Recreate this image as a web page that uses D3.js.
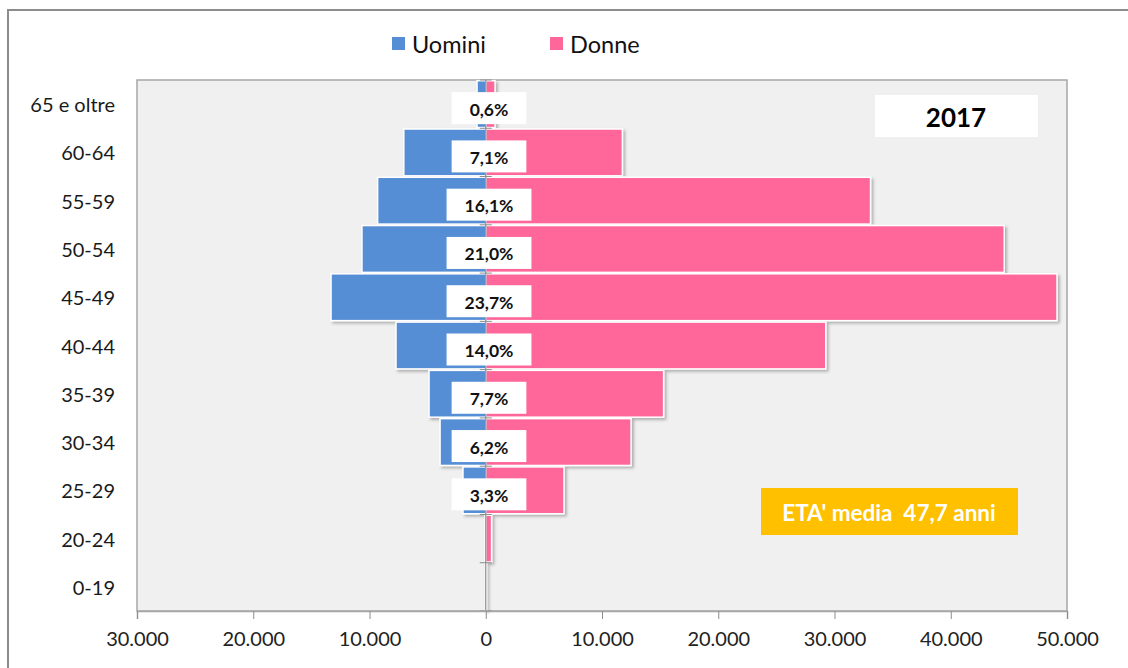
<!DOCTYPE html>
<html>
<head>
<meta charset="utf-8">
<script src="https://cdn.jsdelivr.net/npm/d3@7"></script>
<style>
  body { margin: 0; background: #fff; }
  svg { display: block; font-family: Lato, "Open Sans", sans-serif; }
</style>
</head>
<body>
<div id="chart"></div>
<script>
// piramide eta' - Uomini vs Donne, 2017

const ageClasses = ["0-19", "20-24", "25-29", "30-34", "35-39", "40-44", "45-49", "50-54", "55-59", "60-64", "65 e oltre"];
const uomini = [30, 60, 1960, 3930, 4880, 7720, 13310, 10650, 9300, 7050, 750];
const donne = [60, 500, 6730, 12500, 15300, 29250, 49140, 44600, 33100, 11750, 800];
const percentLabels = ["", "", "3,3%", "6,2%", "7,7%", "14,0%", "23,7%", "21,0%", "16,1%", "7,1%", "0,6%"];
const xTicks = [-30000, -20000, -10000, 0, 10000, 20000, 30000, 40000, 50000];
const seriesNames = ["Uomini", "Donne"];
const yearLabel = "2017";
const etaLabel = "ETA' media  47,7 anni";

const W = 1128, H = 668;
const plot = { left: 137, right: 1067, top: 80, bottom: 611 };
const colors = { Uomini: "#558ed5", Donne: "#ff6699" };

const svg = d3.select("#chart")
  .append("svg")
  .attr("width", W)
  .attr("height", H);

const defs = svg.append("defs");
const shadow = defs.append("filter")
  .attr("id", "shadow")
  .attr("x", "-10%").attr("y", "-10%")
  .attr("width", "130%").attr("height", "140%");
shadow.append("feDropShadow")
  .attr("dx", 2).attr("dy", 2)
  .attr("stdDeviation", 1.6)
  .attr("flood-color", "#000")
  .attr("flood-opacity", 0.28);

// outer frame (only left and top edges are visible)
svg.append("path")
  .attr("d", `M8,${H} L8,10 L${W},10`)
  .attr("fill", "none")
  .attr("stroke", "#8c8c8c")
  .attr("stroke-width", 2);

const x = d3.scaleLinear()
  .domain([-30000, 50000])
  .range([plot.left, plot.right]);

const y = d3.scaleBand()
  .domain(ageClasses)
  .range([plot.bottom, plot.top])
  .paddingInner(0.03)
  .paddingOuter(0.015);

// plot area
svg.append("rect")
  .attr("x", plot.left)
  .attr("y", plot.top)
  .attr("width", plot.right - plot.left)
  .attr("height", plot.bottom - plot.top)
  .attr("fill", "#f0f0f0")
  .attr("stroke", "#a6a6a6")
  .attr("stroke-width", 1.5);

// legend
const legend = svg.append("g");
const legendX = [392, 550];
seriesNames.forEach((name, i) => {
  legend.append("rect")
    .attr("x", legendX[i])
    .attr("y", 37)
    .attr("width", 13)
    .attr("height", 13)
    .attr("fill", colors[name]);
  legend.append("text")
    .attr("x", legendX[i] + 20)
    .attr("y", 44)
    .attr("dominant-baseline", "central")
    .style("font-size", "23.5px")
    .attr("fill", "#111")
    .text(name);
});

// bars
const rows = ageClasses.map((a, i) => ({ age: a, u: uomini[i], d: donne[i], pct: percentLabels[i] }));

const bars = svg.append("g").attr("filter", "url(#shadow)");

bars.selectAll("rect.uomini")
  .data(rows)
  .join("rect")
  .attr("class", "uomini")
  .attr("x", (d) => x(-d.u))
  .attr("y", (d) => y(d.age))
  .attr("width", (d) => x(0) - x(-d.u))
  .attr("height", y.bandwidth())
  .attr("fill", colors.Uomini)
  .attr("stroke", "#fff")
  .attr("stroke-width", 1.5);

bars.selectAll("rect.donne")
  .data(rows)
  .join("rect")
  .attr("class", "donne")
  .attr("x", x(0))
  .attr("y", (d) => y(d.age))
  .attr("width", (d) => x(d.d) - x(0))
  .attr("height", y.bandwidth())
  .attr("fill", colors.Donne)
  .attr("stroke", "#fff")
  .attr("stroke-width", 1.5);

// vertical category axis on zero
const axisY = svg.append("g");
axisY.append("line")
  .attr("x1", x(0)).attr("x2", x(0))
  .attr("y1", plot.top).attr("y2", plot.bottom)
  .attr("stroke", "#8c8c8c")
  .attr("stroke-width", 1.2);
const bounds = d3.range(ageClasses.length + 1).map((i) => plot.bottom - i * (plot.bottom - plot.top) / ageClasses.length);
axisY.selectAll("line.tick")
  .data(bounds)
  .join("line")
  .attr("class", "tick")
  .attr("x1", x(0) - 6).attr("x2", x(0) + 6)
  .attr("y1", (d) => d).attr("y2", (d) => d)
  .attr("stroke", "#8c8c8c")
  .attr("stroke-width", 1);

// category labels
svg.append("g")
  .selectAll("text")
  .data(ageClasses)
  .join("text")
  .attr("x", 115)
  .attr("y", (d) => y(d) + y.bandwidth() / 2)
  .attr("text-anchor", "end")
  .attr("dominant-baseline", "central")
  .style("font-size", "20px")
  .attr("fill", "#1a1a1a")
  .text((d) => d);

// percent labels
const pctG = svg.append("g")
  .selectAll("g")
  .data(rows.filter((d) => d.pct !== ""))
  .join("g")
  .attr("transform", (d) => `translate(489,${y(d.age) + y.bandwidth() / 2 + 4})`);

pctG.append("text")
  .attr("text-anchor", "middle")
  .attr("dominant-baseline", "central")
  .attr("dy", 1)
  .style("font-size", "17.5px")
  .style("font-weight", "bold")
  .attr("fill", "#111")
  .text((d) => d.pct);

pctG.each(function () {
  const g = d3.select(this);
  const bb = g.select("text").node().getBBox();
  g.insert("rect", "text")
    .attr("x", -bb.width / 2 - 18)
    .attr("y", -16)
    .attr("width", bb.width + 36)
    .attr("height", 32)
    .attr("fill", "#fff");
});

// x axis
const xAxis = svg.append("g")
  .attr("transform", `translate(0,${plot.bottom})`)
  .call(d3.axisBottom(x)
    .tickValues(xTicks)
    .tickSize(8)
    .tickPadding(13)
    .tickFormat((d) => d3.format(",")(Math.abs(d)).replace(/,/g, ".")));
xAxis.select(".domain").attr("stroke", "#a6a6a6").attr("stroke-width", 1.5);
xAxis.selectAll(".tick line").attr("stroke", "#8c8c8c");
xAxis.selectAll(".tick text")
  .style("font-size", "20px")
  .style("font-family", "Lato, sans-serif")
  .attr("fill", "#222");

// year box
svg.append("rect")
  .attr("x", 875).attr("y", 95)
  .attr("width", 163).attr("height", 42)
  .attr("fill", "#fff");
svg.append("text")
  .attr("x", 956).attr("y", 117)
  .attr("text-anchor", "middle")
  .attr("dominant-baseline", "central")
  .style("font-size", "26px")
  .style("font-weight", "bold")
  .attr("fill", "#000")
  .text(yearLabel);

// average age box
svg.append("rect")
  .attr("x", 761).attr("y", 488)
  .attr("width", 257).attr("height", 47)
  .attr("fill", "#ffc000");
svg.append("text")
  .attr("x", 889).attr("y", 512)
  .attr("text-anchor", "middle")
  .attr("dominant-baseline", "central")
  .attr("xml:space", "preserve")
  .style("white-space", "pre")
  .style("font-size", "22.5px")
  .style("font-weight", "bold")
  .attr("fill", "#fff")
  .text(etaLabel);
</script>
</body>
</html>
